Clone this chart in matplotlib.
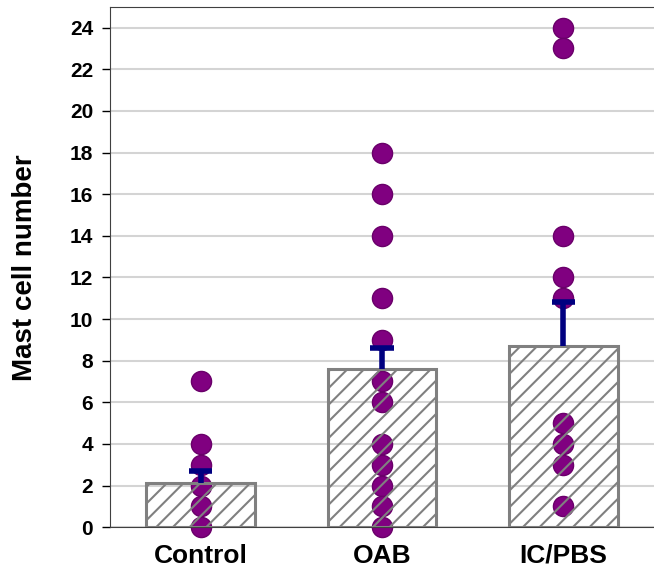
import numpy as np
import matplotlib.pyplot as plt

plt.rcParams['font.family'] = ['Liberation Sans', 'DejaVu Sans']
plt.rcParams['hatch.linewidth'] = 1.5

# data
groups = ['Control', 'OAB', 'IC/PBS']
means = [2.1, 7.6, 8.7]
sem = [0.6, 1.0, 2.1]
control_pts = [7, 4, 3, 2, 1, 0]
oab_pts = [18, 16, 14, 11, 9, 7, 6, 4, 3, 2, 1, 0]
icpbs_pts = [24, 23, 14, 12, 11, 5, 4, 3, 1]
points = [control_pts, oab_pts, icpbs_pts]

fig = plt.figure(figsize=(6.54, 5.73), dpi=100)
ax = fig.add_axes([0.168, 0.080, 0.832, 0.907])

x = np.arange(len(groups))
tops = np.array(means) + np.array(sem)

# dots
for i, pts in enumerate(points):
    ax.plot([x[i]] * len(pts), pts, 'o', color='#800080', markeredgecolor='#6a006a',
            markersize=14.5, zorder=2, clip_on=False)

# bars (hatched, no fill) drawn over dots
ax.bar(x, means, width=0.6, facecolor='none', edgecolor='#808080', hatch='//',
       linewidth=2.2, zorder=3)

# upper error bars only
ax.vlines(x, means, tops, color='#000080', linewidth=4, zorder=4)
ax.hlines(tops, x - 0.065, x + 0.065, color='#000080', linewidth=4, zorder=4)

ax.set_xlim(-0.5, 2.5)
ax.set_ylim(0, 24.97)
ax.set_yticks(np.arange(0, 25, 2))
ax.set_xticks(x)
ax.set_xticklabels(groups, fontsize=19, fontweight='bold')
for lab in ax.get_yticklabels():
    lab.set_fontsize(15)
    lab.set_fontweight('bold')
ax.tick_params(axis='y', direction='out', length=6, width=1, pad=6)
ax.tick_params(axis='x', length=0, pad=12)

ax.yaxis.grid(True, color='#d4d4d4', linewidth=1.5, zorder=0)
ax.set_axisbelow(True)

ax.spines['right'].set_visible(False)
ax.spines['top'].set_color('#404040')
ax.spines['left'].set_color('#404040')
ax.spines['bottom'].set_color('#404040')

ax.set_ylabel('Mast cell number', fontsize=20, fontweight='bold')
ax.yaxis.set_label_coords(-0.132, 0.5)

plt.savefig('out.png', dpi=100)
